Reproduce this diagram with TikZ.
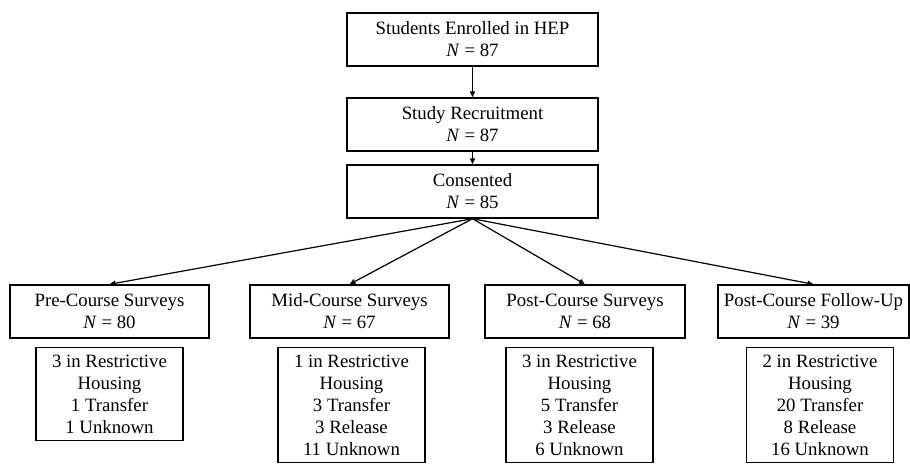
\documentclass[tikz,border=0pt]{standalone}
\usepackage{fontspec}
\setmainfont{Liberation Serif}
\usetikzlibrary{arrows.meta}
\begin{document}
\begin{tikzpicture}
[x=1pt,y=-1pt,
  boxdecorate/.style={shape=rectangle,draw,line width=1.4pt,align=center,%
    font=\fontsize{18.8}{22}\selectfont,inner sep=2pt},%
  stagedecorate/.style={boxdecorate,minimum height=53pt},%
  notedecorate/.style={boxdecorate,anchor=north,minimum width=147pt,inner xsep=4pt,inner ysep=7pt},%
  linedecorate/.style={-{Triangle[length=6pt,width=5pt]},line width=1.2pt}]
\useasboundingbox (0,0) rectangle (910,464);
\clip (0,0) rectangle (910,464);
%% stage boxes
\foreach \nodename/\x/\y/\w/\txt in {
  enr/472.5/39.5/251/{Students Enrolled in HEP\\\textit{N} = 87},
  rec/472.5/124.5/251/{Study Recruitment\\\textit{N} = 87},
  con/472.5/191.5/251/{Consented\\\textit{N} = 85},
  pre/109.5/311.5/199/{Pre-Course Surveys\\\textit{N} = 80},
  mid/349.5/311.5/199/{Mid-Course Surveys\\\textit{N} = 67},
  post/585/311.5/200/{Post-Course Surveys\\\textit{N} = 68},
  fup/813.5/311.5/191/{Post-Course Follow-Up\\\textit{N} = 39}} {
  \node (\nodename) at (\x,\y) [stagedecorate,minimum width=\w pt] {\txt};
}
%% loss boxes
\foreach \nodename/\x/\txt in {
  preloss/109.5/{3 in Restrictive\\Housing\\1 Transfer\\1 Unknown},
  midloss/351.5/{1 in Restrictive\\Housing\\3 Transfer\\3 Release\\11 Unknown},
  postloss/579.5/{3 in Restrictive\\Housing\\5 Transfer\\3 Release\\6 Unknown},
  fuploss/820/{2 in Restrictive\\Housing\\20 Transfer\\8 Release\\16 Unknown}} {
  \node (\nodename) at (\x,347) [notedecorate] {\txt};
}
%% arrows
\path
\foreach \startnode/\endnode in {enr/rec, rec/con, con/pre, con/mid, con/post, con/fup} {
  (\startnode.south) edge[linedecorate] (\endnode.north)
};
\end{tikzpicture}
\end{document}
